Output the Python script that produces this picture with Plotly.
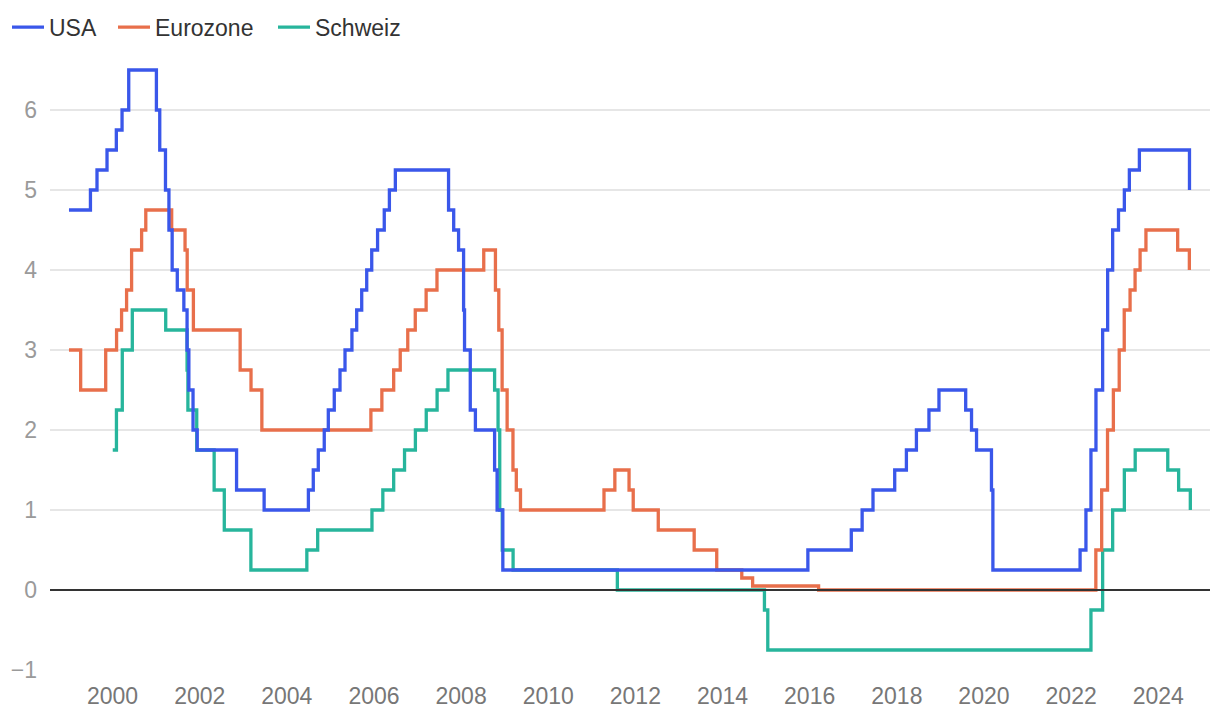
import plotly.graph_objects as go

# ---- data: policy rate change dates and values (%) ----
usa_dates = [
    "1999-01-01", "1999-06-30", "1999-08-24", "1999-11-16", "2000-02-02", "2000-03-21",
    "2000-05-16", "2001-01-03", "2001-01-31", "2001-03-20", "2001-04-18", "2001-05-15",
    "2001-06-27", "2001-08-21", "2001-09-17", "2001-10-02", "2001-11-06", "2001-12-11",
    "2002-11-06", "2003-06-25", "2004-06-30", "2004-08-10", "2004-09-21", "2004-11-10",
    "2004-12-14", "2005-02-02", "2005-03-22", "2005-05-03", "2005-06-30", "2005-08-09",
    "2005-09-20", "2005-11-01", "2005-12-13", "2006-01-31", "2006-03-28", "2006-05-10",
    "2006-06-29", "2007-09-18", "2007-10-31", "2007-12-11", "2008-01-22", "2008-01-30",
    "2008-03-18", "2008-04-30", "2008-10-08", "2008-10-29", "2008-12-16", "2015-12-17",
    "2016-12-15", "2017-03-16", "2017-06-15", "2017-12-14", "2018-03-22", "2018-06-14",
    "2018-09-27", "2018-12-20", "2019-08-01", "2019-09-19", "2019-10-31", "2020-03-04",
    "2020-03-16", "2022-03-17", "2022-05-05", "2022-06-16", "2022-07-28", "2022-09-22",
    "2022-11-03", "2022-12-15", "2023-02-02", "2023-03-23", "2023-05-04", "2023-07-27",
    "2024-09-19",
]
usa_values = [
    4.75, 5.00, 5.25, 5.50, 5.75, 6.00,
    6.50, 6.00, 5.50, 5.00, 4.50, 4.00,
    3.75, 3.50, 3.00, 2.50, 2.00, 1.75,
    1.25, 1.00, 1.25, 1.50, 1.75, 2.00,
    2.25, 2.50, 2.75, 3.00, 3.25, 3.50,
    3.75, 4.00, 4.25, 4.50, 4.75, 5.00,
    5.25, 4.75, 4.50, 4.25, 3.50, 3.00,
    2.25, 2.00, 1.50, 1.00, 0.25, 0.50,
    0.75, 1.00, 1.25, 1.50, 1.75, 2.00,
    2.25, 2.50, 2.25, 2.00, 1.75, 1.25,
    0.25, 0.50, 1.00, 1.75, 2.50, 3.25,
    4.00, 4.50, 4.75, 5.00, 5.25, 5.50,
    5.00,
]

ez_dates = [
    "1999-01-01", "1999-04-09", "1999-11-05", "2000-02-04", "2000-03-17", "2000-04-28",
    "2000-06-09", "2000-09-01", "2000-10-06", "2001-05-11", "2001-08-31", "2001-09-18",
    "2001-11-09", "2002-12-06", "2003-03-07", "2003-06-06", "2005-12-06", "2006-03-08",
    "2006-06-15", "2006-08-09", "2006-10-11", "2006-12-13", "2007-03-14", "2007-06-13",
    "2008-07-09", "2008-10-15", "2008-11-12", "2008-12-10", "2009-01-21", "2009-03-11",
    "2009-04-08", "2009-05-13", "2011-04-13", "2011-07-13", "2011-11-09", "2011-12-14",
    "2012-07-11", "2013-05-08", "2013-11-13", "2014-06-11", "2014-09-10", "2016-03-16",
    "2022-07-27", "2022-09-14", "2022-11-02", "2022-12-21", "2023-02-08", "2023-03-22",
    "2023-05-10", "2023-06-21", "2023-08-02", "2023-09-20", "2024-06-12", "2024-09-18",
]
ez_values = [
    3.00, 2.50, 3.00, 3.25, 3.50, 3.75,
    4.25, 4.50, 4.75, 4.50, 4.25, 3.75,
    3.25, 2.75, 2.50, 2.00, 2.25, 2.50,
    2.75, 3.00, 3.25, 3.50, 3.75, 4.00,
    4.25, 3.75, 3.25, 2.50, 2.00, 1.50,
    1.25, 1.00, 1.25, 1.50, 1.25, 1.00,
    0.75, 0.50, 0.25, 0.15, 0.05, 0.00,
    0.50, 1.25, 2.00, 2.50, 3.00, 3.50,
    3.75, 4.00, 4.25, 4.50, 4.25, 4.00,
]

ch_dates = [
    "2000-01-03", "2000-02-03", "2000-03-23", "2000-06-15", "2001-03-22", "2001-09-17",
    "2001-09-24", "2001-12-07", "2002-05-02", "2002-07-26", "2003-03-06", "2004-06-17",
    "2004-09-16", "2005-12-15", "2006-03-16", "2006-06-15", "2006-09-14", "2006-12-14",
    "2007-03-15", "2007-06-14", "2007-09-13", "2008-10-08", "2008-11-06", "2008-11-20",
    "2008-12-11", "2009-03-12", "2011-08-03", "2014-12-18", "2015-01-15", "2022-06-16",
    "2022-09-22", "2022-12-15", "2023-03-23", "2023-06-22", "2024-03-21", "2024-06-20",
    "2024-09-26",
]
ch_values = [
    1.75, 2.25, 3.00, 3.50, 3.25, 2.75,
    2.25, 1.75, 1.25, 0.75, 0.25, 0.50,
    0.75, 1.00, 1.25, 1.50, 1.75, 2.00,
    2.25, 2.50, 2.75, 2.50, 2.00, 1.00,
    0.50, 0.25, 0.00, -0.25, -0.75, -0.25,
    0.50, 1.00, 1.50, 1.75, 1.50, 1.25,
    1.00,
]

y_ticks = [-1, 0, 1, 2, 3, 4, 5, 6]

FONT = "Liberation Sans, Arial, Helvetica, sans-serif"

fig = go.Figure()
# draw order: Schweiz below, USA on top; each series has its own legend entry box
fig.add_trace(go.Scatter(x=ch_dates, y=ch_values, name="Schweiz", mode="lines",
                         line=dict(color="#27b59c", width=3.3, shape="hv"), legend="legend3"))
fig.add_trace(go.Scatter(x=ez_dates, y=ez_values, name="Eurozone", mode="lines",
                         line=dict(color="#e86f4b", width=3.3, shape="hv"), legend="legend2"))
fig.add_trace(go.Scatter(x=usa_dates, y=usa_values, name="USA", mode="lines",
                         line=dict(color="#3a57ea", width=3.3, shape="hv"), legend="legend"))

fig.add_shape(type="line", xref="paper", x0=0, x1=1, yref="y", y0=0, y1=0,
              line=dict(color="#333333", width=2), layer="above")


def legend_at(px):
    return dict(orientation="h", xref="container", yref="container",
                x=px / 1220, y=0.992, xanchor="left", yanchor="top",
                font=dict(family=FONT, size=23, color="#333333"), itemwidth=32,
                bgcolor="rgba(0,0,0,0)")


fig.update_layout(
    width=1220, height=716,
    margin=dict(l=50, r=10, t=50, b=46, autoexpand=False),
    paper_bgcolor="white", plot_bgcolor="white",
    font=dict(family=FONT, size=23, color="#333333"),
    showlegend=True,
    legend=legend_at(7),
    legend2=legend_at(113),
    legend3=legend_at(273),
    hovermode=False,
)

fig.update_xaxes(
    type="date", range=["1998-07-26", "2025-03-10"],
    tick0="2000-01-01", dtick="M24", tickformat="%Y",
    showgrid=False, zeroline=False, showline=False, ticks="",
    tickfont=dict(family=FONT, size=23, color="#777777"),
    ticklabelstandoff=10, automargin=False,
)
fig.update_yaxes(
    range=[-1, 6.75], tickvals=y_ticks,
    showgrid=True, gridcolor="#e6e6e6", gridwidth=1.5,
    zeroline=False, showline=False, ticks="",
    tickfont=dict(family=FONT, size=23, color="#9a9a9a"),
    ticklabelstandoff=12, automargin=False,
)

fig.write_html("out.html")
